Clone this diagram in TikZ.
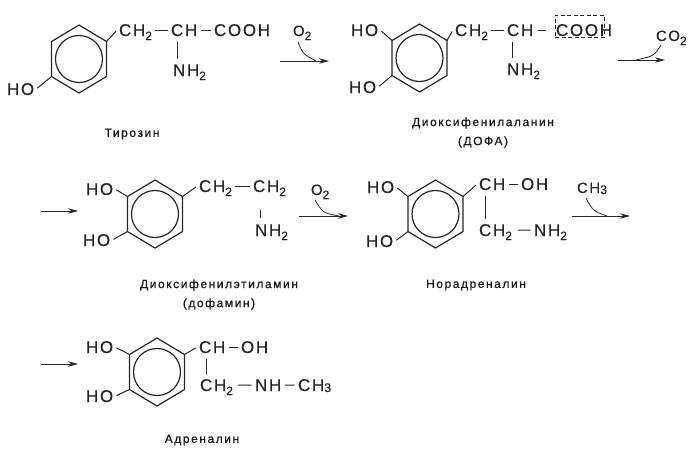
\documentclass[tikz,border=0pt]{standalone}
\usepackage{fontspec}
\setmainfont{Liberation Sans}
\newfontfamily\chemfont[LetterSpace=10,FakeBold=0.25]{Liberation Sans}
\newfontfamily\namefont[LetterSpace=13,FakeBold=0.8]{Liberation Sans}
\usetikzlibrary{positioning,arrows.meta}

\newcommand{\lowidx}[1]{\smash{\raisebox{-4pt}{\fontsize{12}{12}\selectfont #1}}}
\newcommand{\lineidx}[1]{\smash{\raisebox{-1pt}{\fontsize{12.5}{12}\selectfont #1}}}
\newcommand{\benzol}[3]{%
    \coordinate (#1top) at (#2,#3-34);
    \coordinate (#1ur) at (#2+27.5,#3-17.5);
    \coordinate (#1lr) at (#2+27.5,#3+17.5);
    \coordinate (#1bot) at (#2,#3+34);
    \coordinate (#1ll) at (#2-27.5,#3+17.5);
    \coordinate (#1ul) at (#2-27.5,#3-17.5);
    \draw[ringline] (#1top) -- (#1ur) -- (#1lr) -- (#1bot) -- (#1ll) -- (#1ul) -- cycle;
    \draw[ringline] (#2,#3) circle (23.5pt);
}
\tikzset{
    chem/.style = {anchor=base west, inner xsep=2pt, inner ysep=0pt, outer sep=0pt,
        text=black!85, font=\chemfont\fontsize{17}{17}\selectfont},
    reagent/.style = {chem, font=\chemfont\fontsize{15}{15}\selectfont},
    compound/.style = {align=center, inner sep=0pt, text=black!90,
        font=\namefont\fontsize{12}{19}\selectfont},
    bond/.style = {line width=1pt, black!85, shorten <=1.5pt, shorten >=1.5pt},
    upbond/.style = {line width=.9pt, black!85, shorten <=6pt, shorten >=5pt},
    ringline/.style = {line width=1.2pt, black!85},
    react/.style = {line width=.9pt, black!85, -{Stealth[length=10pt,width=5.5pt]}},
    feed/.style = {line width=.8pt, black!85},
}

\begin{document}
\begin{tikzpicture}[x=1pt, y=-1pt]
    \useasboundingbox (0,0) rectangle (696,450);

    % tyrosine
    \benzol{ra}{79}{59}
    \node[chem] (ahoa) at (5,95) {HO};
    \node[chem] (acha) at (117,36) {CH\lowidx{2}};
    \node[chem] (achb) at (169,36) {CH};
    \node[chem] (acooh) at (212,36) {COOH};
    \node[chem] (anh) at (171,76) {NH\lowidx{2}};
    \draw[bond, shorten <=0pt] (rall) -- (ahoa.east);
    \draw[bond, shorten <=0pt] (raur) -- (acha.west);
    \draw[bond] (acha.east) -- (achb.west);
    \draw[bond] (achb.east) -- (acooh.west);
    \draw[upbond] ([xshift=8pt]achb.south west) -- ([xshift=6pt]anh.north west);
    \node[compound] (atxt) at (132,134) {Тирозин};
    \coordinate (aas) at (280,61);
    \coordinate (aae) at (329,61);
    \coordinate (aaj) at (316,61);
    \draw[react] (aas) -- (aae);
    \node[reagent] (aox) at (291,36) {O\lowidx{2}};
    \draw[feed] (298,42) .. controls (303,54) .. (aaj);

    % DOPA
    \benzol{rb}{419.5}{58}
    \node[chem] (bhoa) at (349,36) {HO};
    \node[chem] (bhob) at (347,93) {HO};
    \node[chem] (bcha) at (453,36) {CH\lowidx{2}};
    \node[chem] (bchb) at (505,36) {CH};
    \node[chem] (bcooh) at (554,36) {COOH};
    \node[chem] (bnh) at (505,75) {NH\lowidx{2}};
    \node[draw=black!85, dash pattern=on 4pt off 2.5pt, line width=.8pt, minimum width=49pt, minimum height=22pt, inner sep=0pt] (bbox) at (579.5,26) {};
    \draw[bond, shorten <=0pt] (rbul) -- (bhoa.east);
    \draw[bond, shorten <=0pt] (rbll) -- (bhob.east);
    \draw[bond, shorten <=0pt] (rbur) -- (bcha.west);
    \draw[bond] (bcha.east) -- (bchb.west);
    \draw[bond, shorten <=3pt, shorten >=8pt] (bchb.east) -- (bcooh.west);
    \draw[upbond] ([xshift=7pt]bchb.south west) -- ([xshift=7pt]bnh.north west);
    \node[compound] (btxt) at (483,132.5) {Диоксифенилаланин\\(ДОФА)};
    \coordinate (bas) at (618,60);
    \coordinate (bae) at (665,60);
    \coordinate (baj) at (636,60);
    \draw[react] (bas) -- (bae);
    \node[reagent] (bco) at (654,41) {CO\lowidx{2}};
    \draw[feed] (661,45) .. controls (654,56) .. (baj);

    % dopamine
    \benzol{rc}{155}{214}
    \node[chem] (choa) at (84,195) {HO};
    \node[chem] (chob) at (81,246) {HO};
    \node[chem] (ccha) at (197,192) {CH\lowidx{2}};
    \node[chem] (cchb) at (251,192) {CH\lowidx{2}};
    \node[chem] (cnh) at (253,236) {NH\lowidx{2}};
    \draw[bond, shorten <=0pt] (rcul) -- (choa.east);
    \draw[bond, shorten <=0pt] (rcll) -- (chob.east);
    \draw[bond, shorten <=0pt] (rcur) -- (ccha.west);
    \draw[bond] (ccha.east) -- (cchb.west);
    \draw[upbond, shorten <=18pt, shorten >=6pt] ([xshift=9pt]cchb.south west) -- ([xshift=7pt]cnh.north west);
    \node[compound] (ctxt) at (219,294.5) {Диоксифенилэтиламин\\(дофамин)};
    \coordinate (cin) at (41,211);
    \coordinate (cine) at (78,211);
    \draw[react] (cin) -- (cine);
    \coordinate (cas) at (299,216);
    \coordinate (cae) at (348,216);
    \coordinate (caj) at (339,216);
    \draw[react] (cas) -- (cae);
    \node[reagent] (cox) at (309,195) {O\lowidx{2}};
    \draw[feed] (315,200) .. controls (323,213) .. (caj);

    % noradrenaline
    \benzol{rd}{435.5}{214}
    \node[chem] (dhoa) at (365,193) {HO};
    \node[chem] (dhob) at (364,247) {HO};
    \node[chem] (dcha) at (477,190) {CH};
    \node[chem] (doh) at (519,190) {OH};
    \node[chem] (dchb) at (477,236) {CH\lowidx{2}};
    \node[chem] (dnh) at (532,236) {NH\lowidx{2}};
    \draw[bond, shorten <=0pt] (rdul) -- (dhoa.east);
    \draw[bond, shorten <=0pt] (rdll) -- (dhob.east);
    \draw[bond, shorten <=0pt] (rdur) -- (dcha.west);
    \draw[bond] (dcha.east) -- (doh.west);
    \draw[bond, shorten <=4pt] (dchb.east) -- (dnh.west);
    \draw[upbond] ([xshift=8pt]dcha.south west) -- ([xshift=8pt]dchb.north west);
    \node[compound] (dtxt) at (476,285) {Норадреналин};
    \coordinate (das) at (572,216);
    \coordinate (dae) at (630,216);
    \coordinate (daj) at (607,216);
    \draw[react] (das) -- (dae);
    \node[reagent] (dme) at (575,193) {CH\lineidx{3}};
    \draw[feed] (586,198) .. controls (593,211) .. (daj);

    % adrenaline
    \benzol{re}{157}{372}
    \node[chem] (ehoa) at (84,353) {HO};
    \node[chem] (ehob) at (84,402) {HO};
    \node[chem] (echa) at (197,353) {CH};
    \node[chem] (eoh) at (239,353) {OH};
    \node[chem] (echb) at (198,391) {CH\lowidx{2}};
    \node[chem] (enh) at (253,391) {NH};
    \node[chem] (eme) at (296,391) {CH\lineidx{3}};
    \draw[bond, shorten <=0pt] (reul) -- (ehoa.east);
    \draw[bond, shorten <=0pt] (rell) -- (ehob.east);
    \draw[bond, shorten <=0pt] (reur) -- (echa.west);
    \draw[bond] (echa.east) -- (eoh.west);
    \draw[bond, shorten <=3pt] (echb.east) -- (enh.west);
    \draw[bond] (enh.east) -- (eme.west);
    \draw[upbond] ([xshift=9pt]echa.south west) -- ([xshift=8pt]echb.north west);
    \node[compound] (etxt) at (202,440) {Адреналин};
    \coordinate (ein) at (41,364);
    \coordinate (eine) at (78,364);
    \draw[react] (ein) -- (eine);
\end{tikzpicture}
\end{document}
